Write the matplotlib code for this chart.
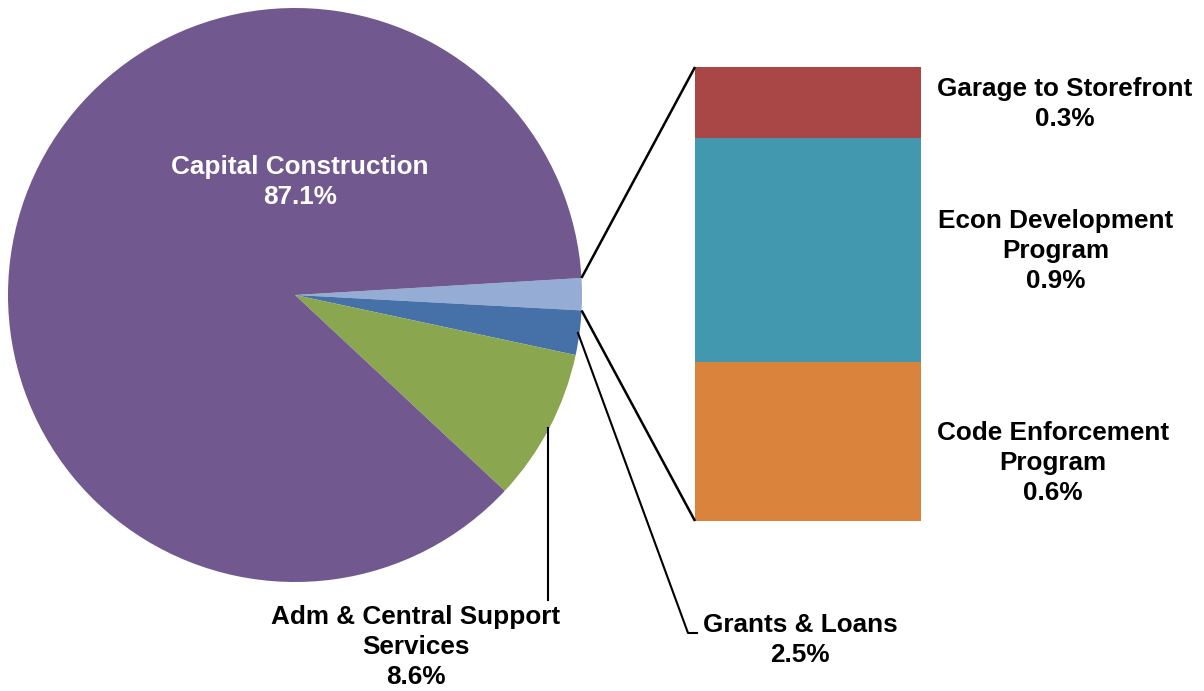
import matplotlib.pyplot as plt
import numpy as np

plt.rcParams['font.family'] = ['Liberation Sans', 'DejaVu Sans']

# pie data (clockwise from the "other" slice)
pie_labels = ["Other", "Grants & Loans", "Adm & Central Support\nServices", "Capital Construction"]
pie_values = [1.8, 2.5, 8.6, 87.1]
pie_colors = ["#95ADD5", "#4571A8", "#8AA64E", "#71588F"]

# bar data (bottom to top), breakdown of "Other"
bar_labels = ["Code Enforcement\nProgram", "Econ Development\nProgram", "Garage to Storefront"]
bar_values = [0.63, 0.89, 0.28]
bar_colors = ["#DA833D", "#4298AE", "#A84745"]

W, H = 1204, 691
FS = 18.8
LS = 1.32
fig = plt.figure(figsize=(W / 100, H / 100), dpi=100)
ax = fig.add_axes([0, 0, 1, 1])

# pie, in pixel coordinates (y flipped)
cx, cy, r = 295, H - 295, 287
start = 3.4
ax.pie(pie_values, colors=pie_colors, startangle=start, counterclock=False,
       center=(cx, cy), radius=r, wedgeprops=dict(linewidth=0), frame=True)
ax.set_xlim(0, W)
ax.set_ylim(0, H)
ax.set_aspect('equal')
ax.axis('off')

# slice boundary angles
bounds = start - 360 * np.cumsum([0] + pie_values) / 100.0

def edge(a, rr=r):
    t = np.radians(a)
    return cx + rr * np.cos(t), cy + rr * np.sin(t)

# stacked bar
bx0, bx1 = 695, 921
btop, bbot = H - 67, H - 521
scale = (btop - bbot) / sum(bar_values)
bottom = bbot
for v, c in zip(bar_values, bar_colors):
    ax.bar((bx0 + bx1) / 2, v * scale, width=bx1 - bx0, bottom=bottom, color=c, linewidth=0)
    bottom += v * scale

# connector lines
p1 = edge(bounds[0])
p2 = edge(bounds[1])
ax.plot([p1[0], bx0], [p1[1], btop], color='black', lw=1.8, solid_capstyle='butt')
ax.plot([p2[0], bx0], [p2[1], bbot], color='black', lw=1.8, solid_capstyle='butt')

# bar labels
bar_pos = [(1053, H - 463), (1056, H - 251), (1065, H - 104)]
for (x, y), lab, v in zip(bar_pos, bar_labels, bar_values):
    ax.text(x, y, f"{lab}\n{v:.1f}%", ha='center', va='center', fontsize=FS,
            fontweight='bold', color='black', linespacing=LS)

# pie labels
ax.text(300, H - 182, f"{pie_labels[3]}\n{pie_values[3]:.1f}%", ha='center', va='center',
        fontsize=FS, fontweight='bold', color='white', linespacing=LS)
ax.text(416, H - 647, f"{pie_labels[2]}\n{pie_values[2]:.1f}%", ha='center', va='center',
        fontsize=FS, fontweight='bold', color='black', linespacing=LS)
ax.text(800, H - 640, f"{pie_labels[1]}\n{pie_values[1]:.1f}%", ha='center', va='center',
        fontsize=FS, fontweight='bold', color='black', linespacing=LS)

# leader lines
ax.plot([548, 548], [H - 428, H - 600], color='black', lw=1.5)
ax.plot([578, 688, 697], [H - 333, H - 633, H - 633], color='black', lw=1.5)

fig.savefig("out.png", dpi=100)
